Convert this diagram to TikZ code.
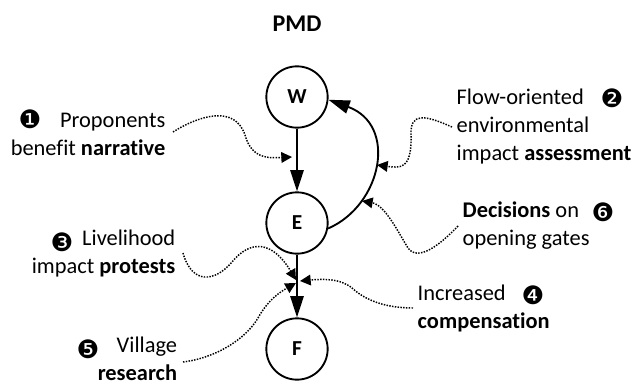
\documentclass[tikz,border=0pt]{standalone}
\usepackage{fontspec}
\setmainfont{Carlito}[Ligatures=NoCommon]
\newfontfamily\dingfont{DejaVu Sans}
\usetikzlibrary{arrows.meta}

\begin{document}
\begin{tikzpicture}[x=0.75pt, y=-0.75pt,
  every node/.style={font=\fontsize{16.8}{21}\selectfont},
  state/.style={draw, circle, line width=1.4pt, minimum size=46pt, inner sep=0pt, font=\fontsize{16}{20}\selectfont\bfseries},
  link/.style={line width=1.4pt, -{Triangle[length=16pt, width=10pt]}},
  hint/.style={densely dotted, line width=1.1pt, -{Triangle[length=8pt, width=8pt]}},
  num/.style={font=\fontsize{19}{19}\selectfont\dingfont, inner sep=0pt}]
  \useasboundingbox (0,0) rectangle (642,385);

  \node[font=\fontsize{18}{20}\selectfont\bfseries] (title) at (297,24) {PMD};

  \node[state] (W) at (297,97) {W};
  \node[state] (E) at (297,223) {E};
  \node[state] (F) at (297,349) {F};

  \draw[link] (W) -- (E);
  \draw[link] (E) -- (F);
  \draw[link] (E.-10) .. controls (382,205) and (398,125) .. (W.-5);

  % annotations
  \node[align=right, anchor=east] (t1) at (170,134) {Proponents\\benefit \textbf{narrative}};
  \node[align=left, anchor=west] (t2) at (452,127) {Flow-oriented\\environmental\\impact \textbf{assessment}};
  \node[align=right, anchor=east] (t3) at (180,254) {Livelihood\\impact \textbf{protests}};
  \node[align=left, anchor=west] (t4) at (413,308) {Increased\\\textbf{compensation}};
  \node[align=right, anchor=east, inner sep=2pt] (t5) at (180,359) {Village\\\textbf{research}};
  \node[align=left, anchor=west] (t6) at (458,226) {\textbf{Decisions} on\\opening gates};

  \node[num] (n1) at (30,119) {❶};
  \node[num] (n2) at (612,98) {❷};
  \node[num] (n3) at (62,242) {❸};
  \node[num] (n4) at (533,295) {❹};
  \node[num] (n5) at (88,349) {❺};
  \node[num] (n6) at (603,212) {❻};

  \coordinate (p1) at (292,157);
  \coordinate (p2) at (377,165);
  \coordinate (p3) at (362,201);
  \coordinate (p4) at (296,280);
  \coordinate (p5) at (300,281);
  \coordinate (p6) at (296,283);

  \draw[hint] (173,132) .. controls (200,115) and (235,105) .. (245,135)
    .. controls (252,160) and (270,158) .. (p1);
  \draw[hint] (t2.west) .. controls (425,115) and (410,112) .. (411,135)
    .. controls (412,170) and (400,168) .. (p2);
  \draw[hint] (t6.west) .. controls (440,245) and (418,262) .. (408,248)
    .. controls (398,232) and (385,205) .. (p3);
  \draw[hint] (183,253) .. controls (192,285) and (215,282) .. (232,262)
    .. controls (250,240) and (272,240) .. (p4);
  \draw[hint] (t4.west) .. controls (385,308) and (365,300) .. (352,288)
    .. controls (340,278) and (322,279) .. (p5);
  \draw[hint] (183,362) .. controls (215,358) and (245,340) .. (258,318)
    .. controls (268,300) and (280,292) .. (p6);
\end{tikzpicture}
\end{document}
